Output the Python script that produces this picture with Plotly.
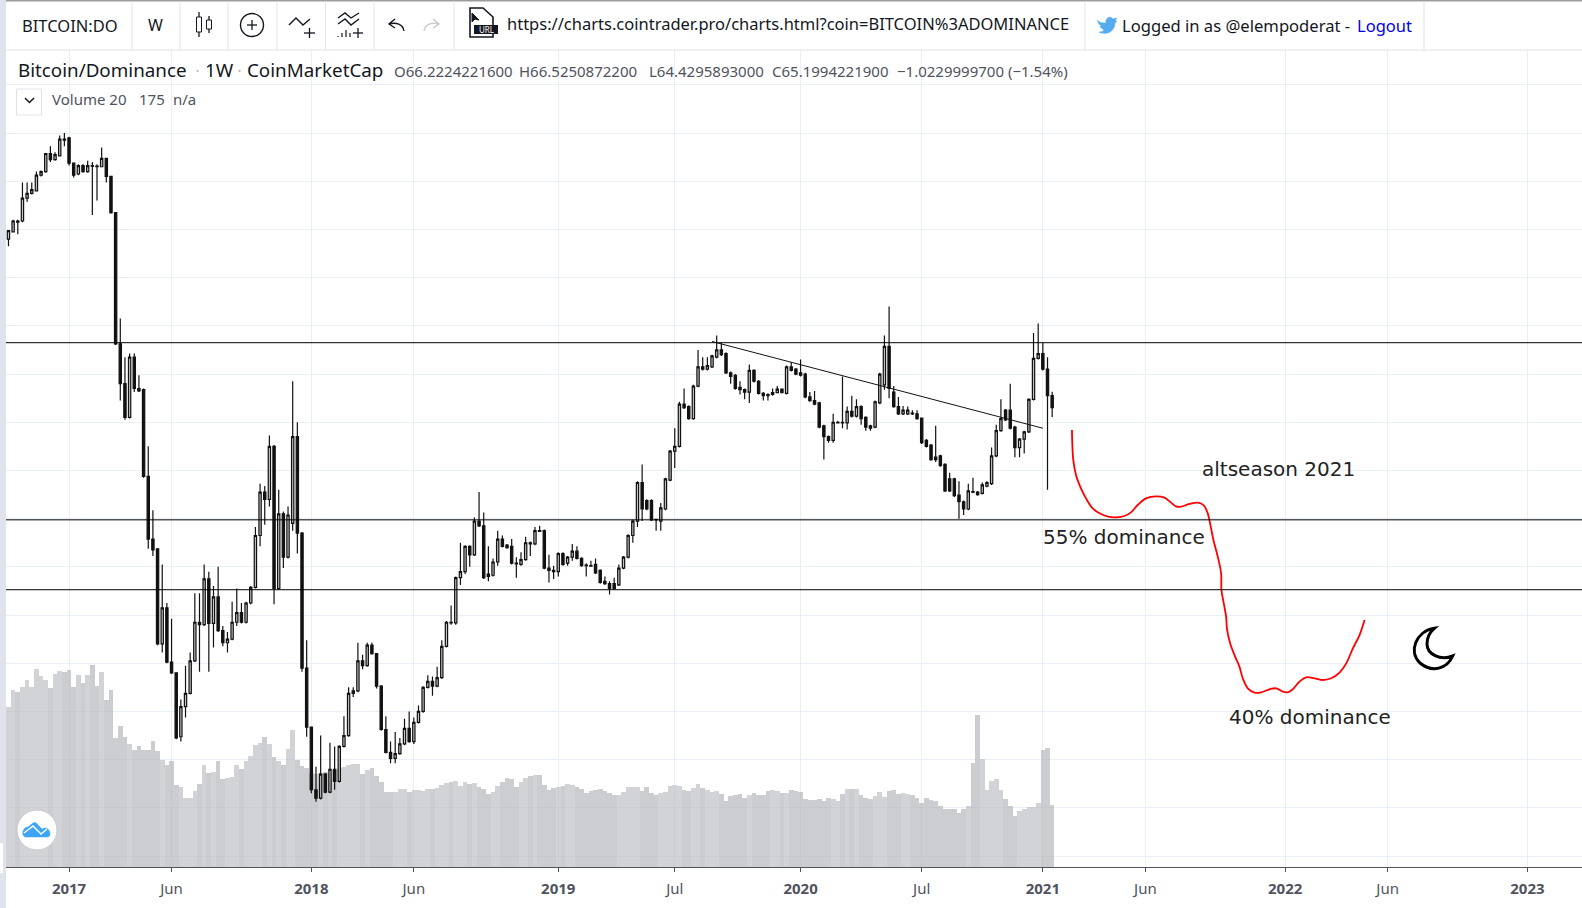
import pandas as pd
import plotly.graph_objects as go

# weekly candles, bitcoin dominance in %
first_week = "2016-10-03"

opens = [79.2,79.8,80.7,80.7,82.6,83.0,83.2,84.5,84.8,86.3,85.8,86.1,87.5,87.6,85.5,84.6,85.3,84.8,85.3,85.25,
    85.2,85.9,84.4,81.4,70.5,67.2,64.4,69.4,66.8,66.7,59.5,54.3,53.5,45.6,48.6,44.1,43.2,37.9,40.4,41.5,
    44.2,47.4,47.2,51.0,47.3,49.5,46.7,45.7,46.0,47.4,48.2,47.4,49.0,50.3,54.6,58.2,57.6,62.0,50.2,56.4,
    52.8,55.6,62.8,54.8,43.6,38.7,33.5,32.8,34.8,33.3,35.2,34.2,37.1,38.0,41.5,41.7,44.2,43.8,45.5,44.8,
    42.1,38.5,36.6,36.1,36.5,37.3,38.6,37.5,39.1,40.0,42.0,42.5,42.1,42.8,45.4,47.4,47.35,51.1,51.6,53.7,
    53.0,55.8,55.4,51.4,51.3,52.4,54.3,53.8,53.7,52.3,52.2,52.6,54.0,53.9,55.0,55.0,51.9,51.7,51.6,53.1,
    52.3,52.8,53.3,52.7,52.15,52.1,52.2,51.7,50.8,50.6,50.6,50.5,51.9,52.8,54.6,55.8,59.0,57.5,57.5,55.95,
    55.8,56.8,59.2,61.6,62.0,65.5,65.3,64.3,67.0,68.6,68.4,68.6,69.4,70.0,69.7,68.1,67.9,66.9,66.7,66.5,
    68.3,67.4,66.4,66.3,66.3,66.45,66.75,66.4,68.6,68.4,68.1,68.0,66.1,65.8,65.6,63.7,62.8,62.5,63.95,64.0,
    63.95,64.9,64.5,65.3,64.4,63.7,63.6,65.6,67.1,70.3,66.5,65.3,64.7,64.7,64.75,64.7,64.35,62.5,62.1,61.1,
    61.2,60.5,59.3,59.3,57.95,57.4,56.8,58.25,58.2,58.1,58.7,58.9,61.2,63.3,65.0,65.0,63.6,61.9,62.6,63.2,
    65.9,69.3,69.7,68.4,66.22]
highs = [79.9,80.8,80.8,83.9,83.9,83.9,84.8,84.9,86.3,86.9,86.4,87.8,88.0,87.7,85.5,85.4,85.4,85.7,85.6,85.4,
    86.8,85.9,84.4,81.4,72.6,69.4,69.7,69.7,67.9,66.8,62.0,56.7,53.5,52.2,49.0,47.7,43.2,41.0,43.8,44.9,
    49.8,49.8,52.2,51.6,50.4,52.0,47.1,46.6,49.1,50.2,49.0,49.1,50.4,55.3,58.9,58.7,62.9,62.1,58.4,56.6,
    57.0,67.4,64.0,54.9,45.9,38.7,35.4,38.0,34.9,37.4,37.1,37.2,39.6,42.0,42.0,45.7,44.7,45.7,45.7,44.8,
    42.2,39.6,37.5,38.3,37.8,39.4,40.0,39.5,40.5,42.1,43.0,42.9,43.7,45.9,47.5,48.8,51.2,54.0,53.8,53.8,
    56.1,58.2,56.5,53.7,52.7,55.0,54.6,53.9,54.3,52.8,53.2,54.5,54.1,55.3,55.4,55.1,53.0,52.1,53.2,53.2,
    52.9,53.9,53.7,52.8,52.3,52.5,52.7,51.8,51.2,50.8,51.1,52.2,52.9,54.7,55.9,59.1,60.5,57.6,57.6,56.0,
    57.3,59.4,61.7,63.5,65.7,66.8,65.4,67.1,70.0,69.4,69.4,69.6,71.2,70.6,69.8,68.2,68.0,67.4,66.8,68.8,
    68.4,67.5,66.5,66.4,66.8,67.0,66.8,68.7,69.0,68.5,69.2,68.1,66.5,66.6,65.7,63.8,62.9,64.7,64.1,67.8,
    65.3,66.2,65.9,65.4,64.5,63.8,65.8,68.1,71.2,73.6,67.0,66.1,65.35,65.3,65.0,65.0,64.4,62.6,62.2,63.7,
    61.3,60.6,59.8,59.4,59.1,57.5,58.9,59.4,58.3,59.0,59.1,61.9,63.8,65.9,65.1,67.2,63.7,62.7,63.3,66.0,
    71.4,72.2,70.6,69.4,66.53]
lows = [78.6,79.8,79.6,80.6,82.3,82.9,83.2,84.4,84.7,85.6,85.7,86.1,86.9,85.3,84.3,84.5,84.7,84.7,81.2,82.4,
    85.2,83.9,81.3,70.4,65.8,64.2,64.3,66.5,66.5,59.4,53.5,52.9,45.5,44.9,44.0,43.1,37.7,37.5,39.5,41.4,
    44.1,43.3,47.1,43.3,45.3,46.6,45.4,44.9,45.9,47.1,47.3,47.3,48.9,50.2,53.7,55.5,57.0,48.9,50.1,51.9,
    52.7,55.0,53.1,43.3,37.9,33.2,32.5,32.7,33.2,33.2,33.5,34.1,37.0,37.9,41.2,41.6,43.5,43.7,44.7,41.9,
    38.4,36.5,35.7,35.7,36.4,37.2,37.4,37.3,39.0,39.9,41.9,41.3,42.0,42.7,45.3,47.2,47.2,50.5,51.4,52.0,
    52.9,55.3,51.0,50.8,51.2,52.1,53.6,53.5,52.2,51.1,52.1,52.5,52.9,53.8,54.9,51.8,50.7,51.0,51.2,52.1,
    52.1,52.5,52.6,52.0,51.2,52.0,51.4,50.6,50.5,49.7,50.1,50.4,51.8,52.7,54.0,55.3,55.8,56.7,55.8,55.0,
    55.0,56.7,59.1,60.2,61.9,65.1,64.2,64.2,66.9,68.3,68.3,68.5,69.3,69.5,68.0,67.2,66.7,66.3,65.9,65.6,
    67.3,66.3,65.8,65.8,66.2,66.4,66.4,66.3,68.2,67.9,67.8,66.0,65.7,65.4,63.5,60.9,62.3,62.3,63.9,63.5,
    63.4,64.4,64.4,63.8,63.3,63.3,63.5,65.5,66.7,66.0,65.2,64.6,64.6,64.6,64.6,64.2,62.2,61.9,60.8,60.7,
    60.3,58.2,58.2,57.8,56.0,56.3,56.7,58.1,57.9,58.0,58.6,58.8,61.1,63.2,64.1,63.4,61.1,61.1,61.4,63.1,
    65.8,69.2,68.3,58.4,64.43]
closes = [79.9,80.7,80.6,82.6,83.0,83.3,84.5,84.8,86.3,85.8,86.2,87.5,87.4,85.5,84.5,85.3,84.8,85.3,85.25,85.2,
    85.9,84.4,81.4,70.5,67.2,64.4,69.4,66.8,66.6,59.5,54.3,53.4,45.6,48.6,44.1,43.2,37.8,40.4,41.5,44.2,
    47.4,47.2,51.0,47.3,49.5,46.7,45.7,46.0,47.4,48.2,47.4,49.0,50.3,54.6,58.2,57.6,62.0,50.2,56.4,52.8,
    56.3,62.8,54.8,43.6,38.7,33.5,32.8,34.8,33.3,35.2,34.2,37.1,38.0,41.5,41.7,44.2,43.8,45.5,44.8,42.1,
    38.5,36.6,36.1,36.5,37.3,38.6,37.5,39.1,40.0,42.0,42.5,42.1,42.8,45.4,47.4,47.35,51.1,51.6,53.7,53.0,
    55.8,55.4,51.1,51.2,52.4,54.3,53.7,53.6,52.3,52.25,52.6,54.0,53.9,55.0,54.95,51.9,51.7,51.6,53.1,52.2,
    52.8,53.3,52.7,52.1,52.1,52.05,51.5,50.7,50.6,50.2,50.2,51.9,52.8,54.6,55.8,59.0,56.8,56.8,55.9,55.9,
    56.9,59.3,61.6,62.0,65.5,65.2,64.3,67.0,68.6,68.4,68.7,69.5,70.0,69.6,68.1,67.8,66.8,66.7,66.5,68.3,
    67.4,66.4,66.2,66.2,66.45,66.75,66.45,68.6,68.3,68.0,67.9,66.1,65.8,65.5,63.6,62.8,62.5,64.0,64.0,63.95,
    64.9,64.5,65.3,64.3,63.6,63.5,65.7,68.0,70.3,66.8,65.3,64.7,65.0,65.0,64.7,64.3,62.3,62.0,60.9,60.9,
    60.4,58.3,58.3,57.9,57.4,56.8,58.3,58.2,58.0,58.8,59.0,61.2,63.3,64.3,64.2,63.5,61.9,62.6,63.2,65.9,
    69.3,69.7,68.4,66.2,65.20]

# volume axis has no scale in the picture, so relative units
volumes = [160,177,175,180,187,180,198,191,187,179,193,196,195,197,180,192,184,192,202,181,
    195,167,177,129,141,130,123,117,121,117,117,126,116,107,102,106,82,80,69,69,
    76,83,102,94,95,106,88,89,90,102,98,106,111,122,124,130,123,110,106,102,
    118,137,107,101,99,94,93,94,95,94,97,99,100,102,103,103,93,97,99,91,
    85,75,75,75,78,78,75,77,77,76,78,78,79,82,84,85,86,81,85,83,
    84,80,78,73,75,81,85,89,88,80,85,89,91,92,92,82,77,79,80,81,
    83,82,80,78,74,76,77,78,76,74,72,72,75,80,80,80,76,80,74,72,
    74,75,81,82,81,77,76,79,83,79,77,75,76,73,66,71,72,73,69,72,
    74,72,72,76,77,76,74,74,77,76,75,68,67,67,68,66,69,68,66,73,
    78,78,78,72,69,68,71,75,70,76,77,73,74,73,72,69,64,69,67,66,
    61,58,58,58,54,58,61,104,152,108,77,86,88,77,68,61,51,56,58,60,
    60,64,117,119,62]

tick_dates = ["2017-01-02","2017-06-05","2018-01-01","2018-06-04","2019-01-07","2019-07-01","2020-01-06",
    "2020-07-06","2021-01-04","2021-06-07","2022-01-03","2022-06-06","2023-01-02"]
tick_labels = ["<b>2017</b>","Jun","<b>2018</b>","Jun","<b>2019</b>","Jul","<b>2020</b>",
    "Jul","<b>2021</b>","Jun","<b>2022</b>","Jun","<b>2023</b>"]

level_lines = [70.6, 55.9, 50.1]
trend_dates = ["2019-08-26","2021-01-04"]
trend_values = [70.7, 63.5]

# hand drawn red path, weeks counted from 2017-01-02
path_weeks = [215.25,215.32,215.53,216.11,217.18,218.26,219.69,221.48,223.27,224.7,226.49,227.92,229.35,231.14,
    233.29,235.08,236.51,237.59,238.66,240.45,242.24,243.53,244.39,244.89,245.61,246.54,247.26,247.33,
    247.83,248.33,248.55,249.19,250.26,251.19,251.91,252.99,254.42,255.85,257.64,259.07,260.5,261.58,
    262.65,264.08,265.52,267.31,269.1,270.88,272.68,274.11,275.54,276.97,278.05]
path_values = [63.36,62.25,60.87,59.62,58.51,57.68,56.86,56.38,56.14,56.11,56.22,56.52,57.13,57.68,
    57.85,57.74,57.33,57.02,56.99,57.22,57.33,57.1,56.44,55.61,54.23,52.84,51.46,50.08,
    48.97,47.86,46.76,45.65,44.55,43.72,42.75,41.92,41.56,41.59,41.84,41.92,41.64,41.59,
    41.84,42.47,42.83,42.75,42.61,42.75,43.22,43.99,45.24,46.34,47.59]

PLOT_L, PLOT_T, PLOT_B = 6, 50, 867
W, H = 1582, 908
TEXT = "#131722"
GREY = "#50535e"
GRID = "#e9eff6"
UI_FONT = "Noto Sans"


def fx(x):
    return (x - PLOT_L) / (W - PLOT_L)


def fy(y):
    return (PLOT_B - y) / (PLOT_B - PLOT_T)


def path(*cmds):
    # pixel commands -> paper path
    out = []
    for c in cmds:
        nums = c[1:]
        xy = []
        for k in range(0, len(nums), 2):
            xy.append("%.5f %.5f" % (fx(nums[k]), fy(nums[k + 1])))
        out.append(c[0] + " ".join(xy))
    return " ".join(out)


shapes = []
annots = []


def add_path(d, color="#131722", width=1.4, fill=None):
    shapes.append(dict(type="path", xref="paper", yref="paper", path=d, layer="above",
                       line=dict(color=color, width=width), fillcolor=fill))


def add_rect(x0, y0, x1, y1, fill, line=None):
    shapes.append(dict(type="rect", xref="paper", yref="paper", x0=fx(x0), x1=fx(x1), y0=fy(y0), y1=fy(y1),
                       fillcolor=fill, line=dict(width=0 if line is None else 1, color=line), layer="above"))


def add_line(x0, y0, x1, y1, color="#e0e3eb", width=1):
    shapes.append(dict(type="line", xref="paper", yref="paper", x0=fx(x0), x1=fx(x1), y0=fy(y0), y1=fy(y1),
                       line=dict(color=color, width=width), layer="above"))


def add_circle(cx, cy, r, color="#131722", width=1.4, fill=None):
    shapes.append(dict(type="circle", xref="paper", yref="paper", x0=fx(cx - r), x1=fx(cx + r), y0=fy(cy - r), y1=fy(cy + r),
                       line=dict(color=color, width=width), fillcolor=fill, layer="above"))


def label(text, x, y, size=14, color=TEXT, family=UI_FONT, anchor="left"):
    annots.append(dict(text=text, xref="paper", yref="paper", x=fx(x), y=fy(y), xanchor=anchor, yanchor="middle",
                       showarrow=False, borderpad=0, font=dict(size=size, color=color, family=family)))


# toolbar and page furniture
add_rect(0, 0, W, 50, "#ffffff")
add_rect(0, 0, W, 1.5, "#9c9c9c")
add_rect(0, 0, 6, H, "#e0e3eb")
add_rect(0, 843, 3, 873, "#ffffff")
add_line(6, 50, W, 50)
for sep in [132, 180, 228, 277, 325.5, 374, 454, 1085, 1424]:
    add_line(sep, 1, sep, 50)

label("BITCOIN:DO", 21, 25, 16.5)
label("W", 155, 25, 16, anchor="center")

# candle icon
add_line(199, 12, 199, 37, "#131722", 1.3)
add_rect(196.5, 17, 201.5, 32, "#ffffff", "#131722")
add_line(209, 16, 209, 33, "#131722", 1.3)
add_rect(206.5, 20, 211.5, 29, "#ffffff", "#131722")
# add indicator icon
add_circle(252, 25, 11.5)
add_line(247, 25, 257, 25, "#131722", 1.3)
add_line(252, 20, 252, 30, "#131722", 1.3)
# compare icon
add_path(path(("M", 289, 25), ("L", 296, 18), ("L", 303, 25), ("L", 310, 19)))
add_line(304, 33, 315, 33, "#131722", 1.3)
add_line(309.5, 28, 309.5, 38, "#131722", 1.3)
# indicators icon
add_path(path(("M", 338, 18), ("L", 345, 13), ("L", 351, 18), ("L", 359, 13)))
add_path(path(("M", 338, 24), ("L", 345, 19), ("L", 351, 25), ("L", 359, 19)))
for bx, btop in [(338, 36), (342, 33), (346, 30), (350, 33)]:
    add_line(bx, 37, bx, btop, "#131722", 1.2)
add_line(353, 33, 363, 33, "#131722", 1.3)
add_line(358, 28, 358, 38, "#131722", 1.3)
# undo / redo
add_path(path(("M", 395, 19), ("L", 389, 24), ("L", 395, 28), ("M", 389, 24), ("C", 396, 22, 403, 24, 404, 31)))
add_path(path(("M", 433, 19), ("L", 439, 24), ("L", 433, 28), ("M", 439, 24), ("C", 432, 22, 425, 24, 424, 31)), "#c8cad0")
# url file icon
add_path(path(("M", 470, 8), ("L", 483, 8), ("L", 493, 17), ("L", 493, 37), ("L", 470, 37), ("Z",)), "#131722", 1.6, "#ffffff")
add_path(path(("M", 472, 13), ("L", 472, 22), ("L", 475, 19), ("L", 479, 20), ("Z",)), "#131722", 1, "#131722")
add_rect(474, 25, 498, 34, "#131722")
label("URL", 486, 29.7, 8, "#ffffff", anchor="center")

label("https://charts.cointrader.pro/charts.html?coin=BITCOIN%3ADOMINANCE", 506, 24, 16.5)
# twitter bird
add_path(path(("M", 1097, 20), ("C", 1100, 23, 1103, 23, 1106, 23), ("C", 1105, 18, 1110, 15, 1113, 19),
              ("L", 1117, 18), ("L", 1115, 21), ("L", 1117, 21), ("L", 1115, 23),
              ("C", 1115, 31, 1107, 36, 1099, 32), ("C", 1102, 32, 1103, 31, 1104, 30),
              ("C", 1102, 29, 1100, 27, 1100, 26), ("L", 1102, 26), ("C", 1099, 25, 1098, 23, 1098, 21), ("Z",)),
         "#55acee", 0.5, "#55acee")
label("Logged in as @elempoderat -", 1121, 25, 16.6)
label("Logout", 1356, 25, 16.5, "#0000ee")

label("Bitcoin/Dominance", 17, 70, 18.8)
label("•", 197, 70, 8, "#b2b5be", anchor="center")
label("1W", 204, 70, 18.8)
label("•", 239, 70, 8, "#b2b5be", anchor="center")
label("CoinMarketCap", 246, 70, 18.8)
label("O66.2224221600", 393, 71.5, 15, GREY)
label("H66.5250872200", 518, 71.5, 15, GREY)
label("L64.4295893000", 648, 71.5, 15, GREY)
label("C65.1994221900", 771, 71.5, 15, GREY)
label("−1.0229999700 (−1.54%)", 896, 71.5, 15, GREY)

add_rect(16.5, 89, 41.5, 115, "#ffffff", "#e0e3eb")
add_path(path(("M", 25, 98), ("L", 29.5, 102.5), ("L", 34, 98)), "#131722", 1.5)
label("Volume 20", 51, 99, 15, GREY)
label("175", 138, 99, 15, GREY)
label("n/a", 172, 99, 15, GREY)

# logo
add_circle(37, 830, 20, "#c9cbd0", 1, "#ffffff")
add_path(path(("M", 23, 835), ("C", 22, 830, 25, 827, 28, 827), ("L", 33, 823), ("C", 35, 822, 37, 823, 38, 825),
              ("L", 42, 829), ("L", 45, 828), ("C", 48, 828, 50, 831, 50, 834), ("C", 50, 836, 49, 837, 47, 837),
              ("L", 25, 837), ("Z",)), "#3da5f4", 0.5, "#3da5f4")
add_path(path(("M", 24, 833), ("L", 33, 826), ("L", 41, 834), ("L", 47, 829)), "#ffffff", 1.4)

# drawing annotations
label("altseason 2021", 1201, 469, 20, "#222222", "DejaVu Sans")
label("55% dominance", 1042, 537, 20, "#222222", "DejaVu Sans")
label("40% dominance", 1228, 717, 20, "#222222", "DejaVu Sans")
add_path(path(("M", 1434.3, 628.3), ("C", 1416, 631, 1408, 652, 1420, 663), ("C", 1432, 673, 1447, 669, 1452.7, 656),
              ("C", 1440, 661, 1427, 654, 1427, 644), ("C", 1427, 638, 1430, 632, 1434.3, 628.3), ("Z",)),
         "#000000", 3, "#ffffff")

for level in level_lines:
    shapes.append(dict(type="line", xref="paper", yref="y2", x0=0, x1=1, y0=level, y1=level,
                       line=dict(color="#000000", width=1), layer="above"))

week_dates = pd.date_range(first_week, periods=len(closes), freq="7D")
start = pd.Timestamp("2017-01-02")
path_dates = [start + pd.Timedelta(days=w * 7) for w in path_weeks]
vol_colors = ["rgba(176,178,183,0.65)" if c < o else "rgba(186,188,193,0.65)" for o, c in zip(opens, closes)]

fig = go.Figure()
fig.add_trace(go.Bar(x=week_dates, y=volumes, width=604800000, marker=dict(color=vol_colors, line=dict(width=0)),
                     yaxis="y", hoverinfo="skip"))
fig.add_trace(go.Candlestick(x=week_dates, open=opens, high=highs, low=lows, close=closes, yaxis="y2",
                             whiskerwidth=0,
                             increasing=dict(line=dict(color="#111111", width=1.2), fillcolor="#c4c4c4"),
                             decreasing=dict(line=dict(color="#111111", width=1.2), fillcolor="#111111")))
fig.add_trace(go.Scatter(x=trend_dates, y=trend_values, mode="lines", yaxis="y2", line=dict(color="#111111", width=1)))
fig.add_trace(go.Scatter(x=path_dates, y=path_values, mode="lines", yaxis="y2",
                         line=dict(color="#ff0000", width=1.8, shape="spline")))

fig.update_layout(
    width=W, height=H, showlegend=False, paper_bgcolor="#ffffff", plot_bgcolor="#ffffff",
    margin=dict(l=PLOT_L, r=0, t=PLOT_T, b=H - PLOT_B, autoexpand=False),
    bargap=0,
    xaxis=dict(type="date", range=["2016-09-29 07:00", "2023-03-25"], rangeslider=dict(visible=False),
               tickmode="array", tickvals=tick_dates, ticktext=tick_labels, ticks="outside", ticklen=4,
               tickcolor="#50535e", showgrid=True, gridcolor=GRID, gridwidth=1, zeroline=False,
               showline=True, linecolor="#50535e", linewidth=1, ticklabelstandoff=4,
               tickfont=dict(size=15, color=GREY, family=UI_FONT)),
    yaxis=dict(range=[0, PLOT_B - PLOT_T], visible=False, fixedrange=True),
    yaxis2=dict(range=[27.09, 94.89], overlaying="y", side="right", dtick=4, tick0=0, showticklabels=False,
                ticks="", showgrid=True, gridcolor=GRID, gridwidth=1, zeroline=False, showline=False),
    shapes=shapes, annotations=annots,
)

fig.write_html("out.html", config={"displayModeBar": False},
               post_script="document.body.style.margin='0';document.body.style.overflow='hidden';")
